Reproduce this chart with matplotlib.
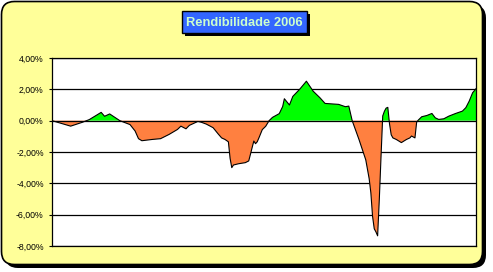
import numpy as np
import matplotlib.pyplot as plt
from matplotlib.patches import FancyBboxPatch, Rectangle
from matplotlib.ticker import FuncFormatter

# Rendibilidade diaria acumulada 2006 (dia de negociacao, %)
dias = [0, 11, 18, 22, 29, 31, 34, 40, 46, 49, 51, 53, 59, 64, 69, 74, 76, 79,
        81, 86, 88, 91, 95, 98, 100, 102, 104, 105, 106, 107, 110, 114, 116,
        117, 118, 119, 120, 121, 122, 124, 126, 128, 130, 134, 136, 137, 140,
        142, 146, 150, 154, 158, 161, 169, 173, 175, 177, 181, 185, 187, 188,
        189, 190, 191, 192, 193, 194, 195, 196, 197, 198, 199, 200, 201, 203,
        206, 209, 211, 212, 214, 215, 216, 218, 221, 224, 226, 228, 231, 234,
        238, 242, 244, 246, 248, 250]
rend = [0.0, -0.35, -0.1, 0.07, 0.53, 0.28, 0.43, 0.0, -0.25, -0.66, -1.15,
        -1.28, -1.2, -1.15, -0.88, -0.56, -0.35, -0.52, -0.3, -0.05, -0.1,
        -0.22, -0.45, -0.85, -1.1, -1.2, -1.35, -2.4, -3.0, -2.83, -2.75,
        -2.68, -2.57, -2.15, -1.72, -1.3, -1.47, -1.35, -1.1, -0.57, -0.36,
        0.0, 0.21, 0.45, 0.9, 1.4, 1.0, 1.55, 2.0, 2.52, 1.88, 1.46, 1.1,
        1.04, 0.89, 0.93, 0.0, -1.2, -2.5, -3.7, -4.6, -6.1, -6.9, -7.1,
        -7.35, -5.0, -2.3, 0.3, 0.6, 0.8, 0.85, -0.2, -0.9, -1.1, -1.2, -1.4,
        -1.2, -1.1, -0.98, -1.1, -0.1, 0.04, 0.25, 0.33, 0.46, 0.18, 0.08,
        0.12, 0.29, 0.46, 0.61, 0.83, 1.25, 1.78, 2.04]
yticks = [-8, -6, -4, -2, 0, 2, 4]
titulo = 'Rendibilidade 2006'

W, H = 493, 272
fig = plt.figure(figsize=(W / 100, H / 100), dpi=100)
fig.patch.set_facecolor('white')

# fundo amarelo com cantos arredondados e sombra
bg = fig.add_axes([0, 0, 1, 1])
bg.set_xlim(0, W)
bg.set_ylim(H, 0)
bg.axis('off')
bg.add_patch(FancyBboxPatch((5, 5), 481, 263, boxstyle='round,pad=0,rounding_size=13',
                            facecolor='black', edgecolor='black', lw=0))
bg.add_patch(FancyBboxPatch((1.5, 1.5), 481, 263, boxstyle='round,pad=0,rounding_size=13',
                            facecolor='#FFFF99', edgecolor='black', lw=1.2))

# caixa do titulo
bg.add_patch(Rectangle((185, 14), 125, 22, facecolor='black', lw=0))
bg.add_patch(Rectangle((182, 11), 125, 22, facecolor='#3366FF', edgecolor='black', lw=1))
bg.text(244.5, 22.5, titulo, ha='center', va='center', color='#CCFFCC',
        fontsize=9.3, fontweight='bold', family='Liberation Sans')

# area do grafico
ax = fig.add_axes([52 / W, (H - 246) / H, (476 - 52) / W, (246 - 58) / H])
ax.set_facecolor('white')
x = np.array(dias, dtype=float)
y = np.array(rend)
ax.fill_between(x, y, 0, where=y >= 0, interpolate=True, color='#00FF00', lw=0, zorder=2)
ax.fill_between(x, y, 0, where=y <= 0, interpolate=True, color='#FF8040', lw=0, zorder=2)
ax.plot(x, y, color='black', lw=0.8, zorder=3)

for v in yticks:
    ax.axhline(v, color='black', lw=0.9, zorder=1 if v != 0 else 4)

ax.set_xlim(0, 250)
ax.set_ylim(-8, 4)
ax.set_yticks(yticks)
ax.yaxis.set_major_formatter(FuncFormatter(lambda v, p: f'{v:.2f}%'.replace('.', ',')))
ax.set_xticks([])
ax.tick_params(axis='y', length=2.5, width=0.8, pad=3.5, labelsize=6.3)
for lab in ax.get_yticklabels():
    lab.set_family('Liberation Sans')
for s in ax.spines.values():
    s.set_color('black')
    s.set_linewidth(0.9)

fig.savefig('out.png', dpi=100)
